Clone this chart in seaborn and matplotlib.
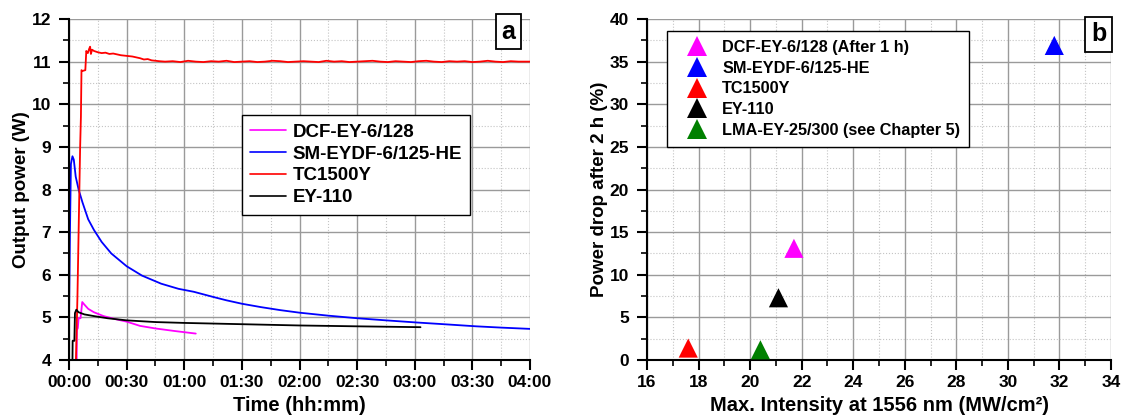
import numpy as np
import pandas as pd
import matplotlib.pyplot as plt
import seaborn as sns
from matplotlib.ticker import MultipleLocator, FuncFormatter

sns.set_theme(style="ticks")
plt.rcParams['font.family'] = ['Liberation Sans', 'DejaVu Sans']
plt.rcParams['font.weight'] = 'bold'
plt.rcParams['axes.labelweight'] = 'bold'
plt.rcParams['text.color'] = 'black'
plt.rcParams['axes.labelcolor'] = 'black'
plt.rcParams['xtick.color'] = 'black'
plt.rcParams['ytick.color'] = 'black'

# ---- panel a: output power vs time (minutes) ----
dcf_t = [4.0, 4.1, 4.6, 5.0, 6.0, 6.9, 8.0, 10.0, 13.0, 18.0, 25.0, 30.0, 37.0, 45.0, 55.0, 66.0]
dcf_p = [4.0, 4.7, 4.75, 4.98, 4.98, 5.36, 5.3, 5.2, 5.12, 5.03, 4.95, 4.9, 4.8, 4.74, 4.68, 4.62]

sm_t = [0.0, 0.5, 1.0, 1.8, 2.5, 3.5, 5.0, 7.0, 10.0, 13.0, 17.0, 22.0, 30.0, 38.0, 48.0,
        57.0, 65.0, 75.0, 82.0, 90.0, 100.0, 110.0, 120.0, 135.0, 150.0, 165.0, 181.0,
        195.0, 212.0, 225.0, 240.0]
sm_p = [5.0, 7.0, 8.6, 8.78, 8.7, 8.3, 8.0, 7.7, 7.3, 7.05, 6.77, 6.5, 6.2, 5.98, 5.79,
        5.67, 5.6, 5.48, 5.4, 5.32, 5.24, 5.17, 5.11, 5.04, 4.98, 4.93, 4.88,
        4.84, 4.79, 4.76, 4.73]

tc_t = [3.6, 4.4, 5.2, 5.8, 6.2, 6.5, 7.0, 8.5, 9.0, 9.8, 10.5, 11.0, 11.4, 12.0, 13.0,
        15.0, 17.0, 19.0, 21.0, 23.0, 25.0, 27.0, 29.0, 31.0, 33.0, 35.0, 37.0, 39.0,
        41.0, 43.0, 45.0, 47.0,
        50, 54, 58, 62, 66, 70, 74, 78, 82, 86, 90, 94, 98, 102, 106, 110, 114, 118,
        122, 126, 130, 134, 138, 142, 146, 150, 154, 158, 162, 166, 170, 174, 178, 182,
        186, 190, 194, 198, 202, 206, 210, 214, 218, 222, 226, 230, 234, 238, 240]
tc_p = [4.0, 5.5, 7.5, 9.0, 9.7, 10.8, 10.78, 10.8, 11.25, 11.2, 11.3, 11.35, 11.18, 11.28, 11.25,
        11.22, 11.2, 11.21, 11.18, 11.19, 11.17, 11.15, 11.14, 11.13, 11.12, 11.1, 11.08, 11.05,
        11.06, 11.03, 11.02, 11.01,
        11.0, 11.01, 10.99, 11.02, 11.0, 10.99, 11.01, 11.0, 11.02, 10.99, 11.0, 11.01, 10.99, 11.0,
        11.02, 11.01, 10.99, 11.0, 11.01, 11.0, 10.99, 11.02, 11.0, 11.01, 10.99, 11.0, 11.01,
        11.02, 11.0, 10.99, 11.01, 11.0, 10.99, 11.01, 11.02, 11.0, 10.99, 11.01, 11.0, 11.01,
        10.99, 11.0, 11.02, 11.0, 10.99, 11.01, 11.0, 11.0, 11.0]

ey_t = [1.8, 1.9, 2.8, 3.1, 3.8, 5.0, 8.0, 13.0, 20.0, 30.0, 45.0, 60.0, 90.0, 120.0, 150.0, 183.0]
ey_p = [4.0, 4.45, 4.45, 5.1, 5.18, 5.12, 5.07, 5.03, 4.98, 4.93, 4.89, 4.87, 4.84, 4.81, 4.79, 4.77]

line_labels = ['DCF-EY-6/128', 'SM-EYDF-6/125-HE', 'TC1500Y', 'EY-110']
line_colors = ['#ff00ff', '#0000ff', '#ff0000', '#000000']

# ---- panel b: power drop vs intensity ----
pt_labels = ['DCF-EY-6/128 (After 1 h)', 'SM-EYDF-6/125-HE', 'TC1500Y', 'EY-110',
             'LMA-EY-25/300 (see Chapter 5)']
pt_intensity = [21.7, 31.8, 17.6, 21.1, 20.4]
pt_drop = [13.1, 36.9, 1.4, 7.3, 1.2]
pt_colors = ['#ff00ff', '#0000ff', '#ff0000', '#000000', '#008000']


def style_axes(ax):
    for s in ['top', 'right']:
        ax.spines[s].set_visible(False)
    for s in ['left', 'bottom']:
        ax.spines[s].set_linewidth(1.5)
        ax.spines[s].set_color('black')
    ax.tick_params(which='major', direction='out', length=7, width=1.5, labelsize=12.5,
                   color='black', labelcolor='black')
    ax.tick_params(axis='y', which='major', pad=6)
    ax.tick_params(axis='x', which='major', pad=4)
    ax.tick_params(which='minor', direction='out', length=4, width=1.2, color='black')
    ax.grid(True, which='major', color='#9a9a9a', linewidth=1.0, linestyle='-')
    ax.grid(True, which='minor', color='#c4c4c4', linewidth=0.8, linestyle=':')
    ax.set_axisbelow(True)


def bold_ticks(ax):
    plt.setp(ax.get_xticklabels(), fontweight='bold', color='black')
    plt.setp(ax.get_yticklabels(), fontweight='bold', color='black')


fig = plt.figure(figsize=(11.26, 4.18), dpi=100)
ax1 = fig.add_axes([69 / 1126, 1 - 360 / 418, 461 / 1126, 341 / 418])
ax2 = fig.add_axes([647 / 1126, 1 - 360 / 418, 464 / 1126, 341 / 418])

series = [(dcf_t, dcf_p), (sm_t, sm_p), (tc_t, tc_p), (ey_t, ey_p)]
for (t, p), lab, col in zip(series, line_labels, line_colors):
    sns.lineplot(x=t, y=p, ax=ax1, color=col, linewidth=1.3, label=lab,
                 sort=False, estimator=None)

ax1.set_xlim(0, 240)
ax1.set_ylim(4, 12)
ax1.xaxis.set_major_locator(MultipleLocator(30))
ax1.xaxis.set_minor_locator(MultipleLocator(15))
ax1.yaxis.set_major_locator(MultipleLocator(1))
ax1.yaxis.set_minor_locator(MultipleLocator(0.5))
ax1.xaxis.set_major_formatter(FuncFormatter(lambda v, pos: f"{int(v) // 60:02d}:{int(v) % 60:02d}"))
ax1.set_xlabel('Time (hh:mm)', fontsize=14.5, fontweight='bold', labelpad=4, color='black')
ax1.set_ylabel('Output power (W)', fontsize=13.5, fontweight='bold', labelpad=1, color='black')
style_axes(ax1)
leg1 = ax1.legend(loc='upper left', bbox_to_anchor=(0.375, 0.718), borderaxespad=0,
                  fontsize=13.5, frameon=True, fancybox=False, handlelength=1.9,
                  handletextpad=0.35, labelspacing=0.25, borderpad=0.45)
leg1.get_frame().set_edgecolor('black')
leg1.get_frame().set_linewidth(1.0)
leg1.get_frame().set_alpha(1)
for txt in leg1.get_texts():
    txt.set_fontweight('bold')
    txt.set_color('black')
for h in leg1.get_lines():
    h.set_linewidth(1.2)

pts = pd.DataFrame({'label': pt_labels, 'intensity': pt_intensity, 'drop': pt_drop})
sns.scatterplot(data=pts, x='intensity', y='drop', hue='label', hue_order=pt_labels,
                palette=pt_colors, marker='^', s=190, edgecolor='none', ax=ax2,
                zorder=3, clip_on=False)
ax2.set_xlim(16, 34)
ax2.set_ylim(0, 40)
ax2.xaxis.set_major_locator(MultipleLocator(2))
ax2.xaxis.set_minor_locator(MultipleLocator(1))
ax2.yaxis.set_major_locator(MultipleLocator(5))
ax2.yaxis.set_minor_locator(MultipleLocator(2.5))
ax2.set_xlabel('Max. Intensity at 1556 nm (MW/cm²)', fontsize=14.5, fontweight='bold',
               labelpad=4, color='black')
ax2.set_ylabel('Power drop after 2 h (%)', fontsize=13.5, fontweight='bold', labelpad=1,
               color='black')
style_axes(ax2)
leg2 = ax2.legend(loc='upper left', bbox_to_anchor=(0.043, 0.965), borderaxespad=0,
                  fontsize=11.7, frameon=True, fancybox=False, handlelength=2.6,
                  handletextpad=0.25, labelspacing=0.35, borderpad=0.55, title=None)
leg2.get_frame().set_edgecolor('black')
leg2.get_frame().set_linewidth(1.0)
leg2.get_frame().set_alpha(1)
for txt in leg2.get_texts():
    txt.set_fontweight('bold')
    txt.set_color('black')

box = dict(boxstyle='square,pad=0.22', facecolor='white', edgecolor='black', linewidth=1.3)
ax1.text(0.953, 0.962, 'a', transform=ax1.transAxes, ha='center', va='center',
         fontsize=18, fontweight='bold', color='black', bbox=box, clip_on=False, zorder=5)
ax2.text(0.973, 0.955, 'b', transform=ax2.transAxes, ha='center', va='center',
         fontsize=18, fontweight='bold', color='black', bbox=box, clip_on=False, zorder=5)

fig.canvas.draw()
bold_ticks(ax1)
bold_ticks(ax2)
fig.savefig('out.png', dpi=100)
